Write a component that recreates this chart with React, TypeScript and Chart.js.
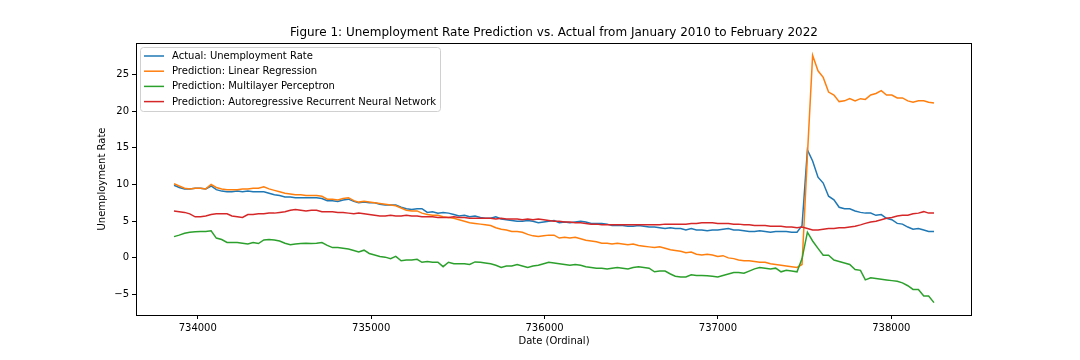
import React, { useEffect, useRef } from "react";
import { Chart, registerables } from "chart.js";

Chart.register(...registerables);

// Monthly observations starting April 2010
const startYear = 2010;
const startMonth = 4;

const actual = [
  9.9, 9.6, 9.4, 9.4, 9.5, 9.5, 9.4, 9.8, 9.3,
  9.1, 9.0, 9.0, 9.1, 9.0, 9.1, 9.0, 9.0, 9.0, 8.8, 8.6, 8.5,
  8.3, 8.3, 8.2, 8.2, 8.2, 8.2, 8.2, 8.1, 7.8, 7.8, 7.7, 7.9,
  8.0, 7.7, 7.5, 7.6, 7.5, 7.5, 7.3, 7.2, 7.2, 7.2, 6.9, 6.7,
  6.6, 6.7, 6.7, 6.2, 6.3, 6.1, 6.2, 6.1, 5.9, 5.7, 5.8, 5.6,
  5.7, 5.5, 5.4, 5.4, 5.6, 5.3, 5.2, 5.1, 5.0, 5.0, 5.1, 5.0,
  4.8, 4.9, 5.0, 5.1, 4.8, 4.9, 4.8, 4.9, 5.0, 4.9, 4.7, 4.7,
  4.7, 4.6, 4.4, 4.4, 4.4, 4.3, 4.3, 4.4, 4.3, 4.2, 4.2, 4.1,
  4.0, 4.1, 4.0, 4.0, 3.8, 4.0, 3.8, 3.8, 3.7, 3.8, 3.8, 3.9,
  4.0, 3.8, 3.8, 3.7, 3.6, 3.6, 3.7, 3.6, 3.5, 3.6, 3.6, 3.6,
  3.5, 3.5, 4.4, 14.7, 13.2, 11.0, 10.2, 8.4, 7.9, 6.9, 6.7, 6.7,
  6.4, 6.2, 6.1, 6.1, 5.8, 5.9, 5.4, 5.2, 4.7, 4.6, 4.2, 3.9,
  4.0, 3.8, 3.6, 3.6,
];

const linearRegression = [
  10.1, 9.8, 9.5, 9.4, 9.5, 9.5, 9.4, 10.0, 9.6, 9.4,
  9.3, 9.3, 9.3, 9.4, 9.4, 9.5, 9.5, 9.7, 9.4, 9.2,
  9.0, 8.8, 8.7, 8.6, 8.6, 8.5, 8.5, 8.5, 8.4, 8.0,
  8.0, 7.9, 8.1, 8.2, 7.8, 7.6, 7.7, 7.6, 7.5, 7.4,
  7.3, 7.2, 7.1, 6.8, 6.5, 6.4, 6.4, 6.1, 5.9, 5.8,
  5.8, 5.6, 5.5, 5.4, 5.2, 5.0, 4.8, 4.7, 4.6, 4.5,
  4.4, 4.1, 3.9, 3.8, 3.6, 3.6, 3.5, 3.2, 3.0, 2.9,
  3.0, 3.1, 3.1, 2.7, 2.8, 2.7, 2.8, 2.6, 2.4, 2.3,
  2.2, 2.0, 2.0, 1.9, 2.0, 1.9, 1.8, 1.9, 1.7, 1.6,
  1.5, 1.4, 1.5, 1.3, 1.1, 1.0, 0.9, 0.7, 0.8, 0.5,
  0.4, 0.5, 0.4, 0.2, 0.3, 0.0, -0.1, -0.3, -0.4, -0.4,
  -0.5, -0.6, -0.6, -0.8, -0.9, -1.0, -1.1, -1.2, -1.3, -0.9,
  14.0, 27.6, 25.5, 24.6, 22.6, 22.2, 21.3, 21.4, 21.7, 21.4,
  21.7, 21.6, 22.2, 22.4, 22.8, 22.2, 22.2, 21.8, 21.8, 21.4,
  21.2, 21.4, 21.4, 21.2, 21.1,
];

const multilayerPerceptron = [
  2.9, 3.1, 3.35, 3.5, 3.55, 3.6, 3.6, 3.7, 2.7, 2.5,
  2.1, 2.1, 2.1, 2.0, 1.9, 2.1, 1.95, 2.45, 2.5, 2.45,
  2.3, 2.0, 1.8, 1.9, 1.95, 2.0, 1.95, 2.0, 2.1, 1.7,
  1.4, 1.4, 1.3, 1.2, 1.0, 0.8, 1.05, 0.6, 0.4, 0.2,
  0.1, -0.1, 0.2, -0.4, -0.3, -0.3, -0.2, -0.6, -0.5, -0.6,
  -0.6, -1.2, -0.6, -0.8, -0.8, -0.8, -0.9, -0.55, -0.6, -0.7,
  -0.8, -1.0, -1.3, -1.1, -1.1, -0.9, -1.1, -1.3, -1.1, -1.0,
  -0.8, -0.6, -0.7, -0.8, -0.9, -1.0, -0.9, -1.0, -1.2, -1.3,
  -1.4, -1.4, -1.5, -1.4, -1.3, -1.4, -1.5, -1.3, -1.2, -1.3,
  -1.4, -1.9, -1.8, -1.8, -2.2, -2.5, -2.6, -2.6, -2.3, -2.4,
  -2.4, -2.45, -2.5, -2.6, -2.4, -2.2, -2.0, -2.0, -2.1, -1.8,
  -1.5, -1.3, -1.4, -1.5, -1.4, -1.9, -1.7, -1.8, -1.9, -0.1,
  3.5, 2.3, 1.3, 0.35, 0.35, -0.3, -0.5, -0.7, -0.9, -1.6,
  -1.7, -3.0, -2.7, -2.8, -2.9, -3.0, -3.1, -3.2, -3.4, -3.8,
  -4.3, -4.3, -5.2, -5.2, -6.1,
];

const recurrentNN = [
  6.4, 6.3, 6.2, 6.0, 5.6, 5.6, 5.7, 5.9, 6.0, 6.0,
  6.0, 5.7, 5.6, 5.5, 5.9, 5.9, 6.0, 6.0, 6.1, 6.1,
  6.2, 6.3, 6.5, 6.6, 6.5, 6.4, 6.5, 6.5, 6.3, 6.3,
  6.3, 6.2, 6.2, 6.1, 6.0, 6.1, 6.0, 5.9, 5.8, 5.7,
  5.7, 5.8, 5.7, 5.7, 5.8, 5.7, 5.7, 5.6, 5.6, 5.6,
  5.5, 5.5, 5.5, 5.6, 5.5, 5.5, 5.4, 5.4, 5.4, 5.4,
  5.4, 5.3, 5.4, 5.3, 5.3, 5.3, 5.2, 5.3, 5.2, 5.3,
  5.2, 5.1, 5.0, 5.0, 4.9, 4.9, 4.8, 4.8, 4.7, 4.6,
  4.6, 4.5, 4.5, 4.5, 4.5, 4.5, 4.5, 4.5, 4.5, 4.5,
  4.5, 4.5, 4.5, 4.6, 4.6, 4.6, 4.6, 4.6, 4.7, 4.7,
  4.8, 4.8, 4.8, 4.7, 4.7, 4.7, 4.6, 4.6, 4.5, 4.5,
  4.4, 4.4, 4.4, 4.3, 4.3, 4.3, 4.2, 4.2, 4.1, 4.2,
  4.0, 3.8, 3.8, 3.9, 4.0, 4.0, 4.1, 4.1, 4.2, 4.3,
  4.5, 4.7, 4.9, 5.0, 5.2, 5.4, 5.5, 5.7, 5.8, 5.8,
  6.0, 6.1, 6.3, 6.1, 6.1,
];

const seriesNames = [
  "Actual: Unemployment Rate",
  "Prediction: Linear Regression",
  "Prediction: Multilayer Perceptron",
  "Prediction: Autoregressive Recurrent Neural Network",
];
const seriesColors = ["#1f77b4", "#ff7f0e", "#2ca02c", "#d62728"];

const xTicks = [734000, 735000, 736000, 737000, 738000];
const yTicks = [-5, 0, 5, 10, 15, 20, 25];

const titleText =
  "Figure 1: Unemployment Rate Prediction vs. Actual from January 2010 to February 2022";
const xLabel = "Date (Ordinal)";
const yLabel = "Unemployment Rate";

const FONT = "'DejaVu Sans', Verdana, sans-serif";

function toOrdinal(i: number): number {
  const ms = Date.UTC(startYear, startMonth - 1 + i, 1);
  return Math.round(ms / 86400000) + 719163;
}

function toPoints(values: number[]) {
  return values.map((v, i) => ({ x: toOrdinal(i), y: v }));
}

const decorPlugin = {
  id: "decor",
  afterDraw(chart: any) {
    const { ctx, chartArea } = chart;
    const { left, right, top, bottom } = chartArea;
    ctx.save();
    // frame
    ctx.strokeStyle = "#000";
    ctx.lineWidth = 1;
    ctx.strokeRect(Math.round(left) + 0.5, Math.round(top) + 0.5, Math.round(right - left) - 1, Math.round(bottom - top));
    // title
    ctx.fillStyle = "#000";
    ctx.font = `12px ${FONT}`;
    ctx.textAlign = "center";
    ctx.textBaseline = "alphabetic";
    ctx.fillText(titleText, (left + right) / 2, top - 7);
    // x label
    ctx.font = `10px ${FONT}`;
    ctx.textBaseline = "middle";
    ctx.fillText(xLabel, (left + right) / 2, 341);
    // y label
    ctx.save();
    ctx.translate(102, (top + bottom) / 2);
    ctx.rotate(-Math.PI / 2);
    ctx.fillText(yLabel, 0, 0);
    ctx.restore();
    // legend
    const lx = 140.5, ly = 47.5, lw = 300, lh = 64, r = 3;
    ctx.beginPath();
    ctx.moveTo(lx + r, ly);
    ctx.lineTo(lx + lw - r, ly);
    ctx.arcTo(lx + lw, ly, lx + lw, ly + r, r);
    ctx.lineTo(lx + lw, ly + lh - r);
    ctx.arcTo(lx + lw, ly + lh, lx + lw - r, ly + lh, r);
    ctx.lineTo(lx + r, ly + lh);
    ctx.arcTo(lx, ly + lh, lx, ly + lh - r, r);
    ctx.lineTo(lx, ly + r);
    ctx.arcTo(lx, ly, lx + r, ly, r);
    ctx.closePath();
    ctx.fillStyle = "rgba(255,255,255,0.8)";
    ctx.fill();
    ctx.strokeStyle = "#d0d0d0";
    ctx.lineWidth = 1;
    ctx.stroke();
    ctx.font = `10px ${FONT}`;
    ctx.textAlign = "left";
    ctx.textBaseline = "middle";
    seriesNames.forEach((name, i) => {
      const y = 56 + i * 15.2;
      ctx.strokeStyle = seriesColors[i];
      ctx.lineWidth = 1.5;
      ctx.beginPath();
      ctx.moveTo(144, y);
      ctx.lineTo(164, y);
      ctx.stroke();
      ctx.fillStyle = "#000";
      ctx.fillText(name, 172, y + 0.5);
    });
    ctx.restore();
  },
};

export default function App() {
  const canvasRef = useRef<HTMLCanvasElement | null>(null);

  useEffect(() => {
    document.body.style.margin = "0";
    const canvas = canvasRef.current;
    if (!canvas) return;
    const allSeries = [actual, linearRegression, multilayerPerceptron, recurrentNN];
    const firstX = toOrdinal(0);
    const lastX = toOrdinal(actual.length - 1);
    const xr = lastX - firstX;
    let yMin = Infinity, yMax = -Infinity;
    allSeries.forEach((s) => s.forEach((v) => { yMin = Math.min(yMin, v); yMax = Math.max(yMax, v); }));
    const yr = yMax - yMin;

    const tickFont = { family: FONT, size: 10 };
    const chart = new Chart(canvas, {
      type: "line",
      data: {
        datasets: allSeries.map((s, i) => ({
          label: seriesNames[i],
          data: toPoints(s),
          borderColor: seriesColors[i],
          backgroundColor: seriesColors[i],
          borderWidth: 1.5,
          pointRadius: 0,
          tension: 0,
          fill: false,
          order: 3 - i,
        })),
      },
      options: {
        responsive: false,
        animation: false,
        devicePixelRatio: 1,
        events: [],
        layout: { padding: { top: 43, right: 108, bottom: 0, left: 0 } },
        plugins: {
          legend: { display: false },
          title: { display: false },
          tooltip: { enabled: false },
        },
        scales: {
          x: {
            type: "linear",
            min: firstX - 0.05 * xr,
            max: lastX + 0.05 * xr,
            afterBuildTicks: (s: any) => { s.ticks = xTicks.map((v) => ({ value: v })); },
            afterFit: (s: any) => { s.height = 45; },
            border: { display: false },
            grid: { display: true, drawOnChartArea: false, drawTicks: true, tickLength: 4, color: "#000", lineWidth: 1 },
            ticks: {
              color: "#000",
              font: tickFont,
              padding: 3,
              maxRotation: 0,
              autoSkip: false,
              callback: (v: any) => String(v),
            },
          },
          y: {
            type: "linear",
            min: yMin - 0.05 * yr,
            max: yMax + 0.05 * yr,
            afterBuildTicks: (s: any) => { s.ticks = yTicks.map((v) => ({ value: v })); },
            afterFit: (s: any) => { s.width = 136; },
            border: { display: false },
            grid: { display: true, drawOnChartArea: false, drawTicks: true, tickLength: 4, color: "#000", lineWidth: 1 },
            ticks: {
              color: "#000",
              font: tickFont,
              padding: 3,
              autoSkip: false,
              callback: (v: any) => (v < 0 ? "\u2212" + String(Math.abs(v)) : String(v)),
            },
          },
        },
      },
      plugins: [decorPlugin],
    } as any);
    return () => chart.destroy();
  }, []);

  return (
    <div style={{ width: 1080, height: 360, background: "#fff" }}>
      <canvas ref={canvasRef} width={1080} height={360} style={{ display: "block", width: 1080, height: 360 }} />
    </div>
  );
}
